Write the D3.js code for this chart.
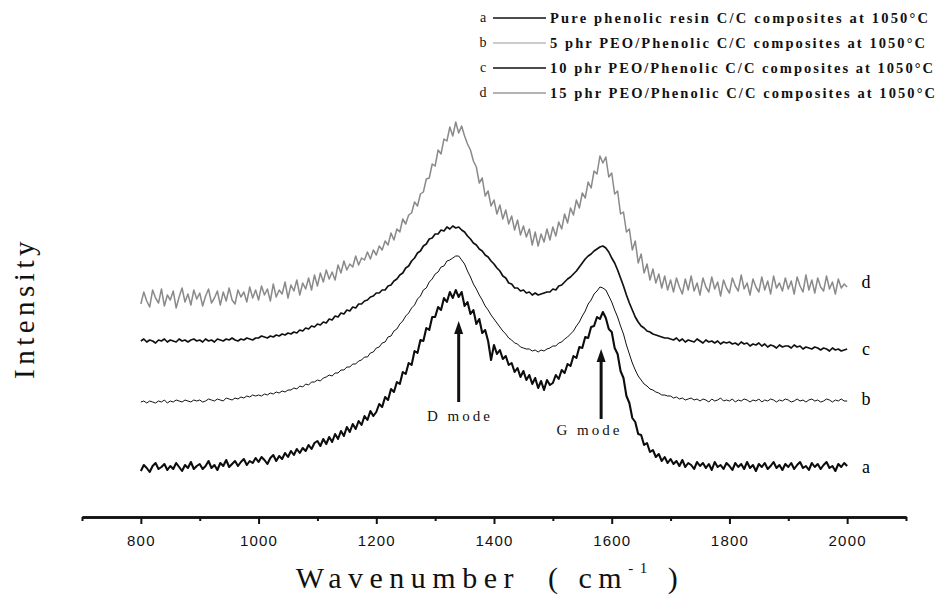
<!DOCTYPE html>
<html>
<head>
<meta charset="utf-8">
<script src="https://cdn.jsdelivr.net/npm/d3@7"></script>
<style>
  body { margin: 0; background: #fff; }
  svg { display: block; }
</style>
</head>
<body>
<svg id="chart" width="939" height="599"></svg>
<script>
// Raman spectra of C/C composites carbonised at 1050 °C (stacked, arbitrary units)
const wavenumbers = [
  800, 805, 810, 815, 820, 825, 830, 835, 840, 845, 850, 855, 860, 865, 870, 875, 880, 885, 890, 895,
  900, 905, 910, 915, 920, 925, 930, 935, 940, 945, 950, 955, 960, 965, 970, 975, 980, 985, 990, 995,
  1000, 1005, 1010, 1015, 1020, 1025, 1030, 1035, 1040, 1045, 1050, 1055, 1060, 1065, 1070, 1075, 1080, 1085, 1090, 1095,
  1100, 1105, 1110, 1115, 1120, 1125, 1130, 1135, 1140, 1145, 1150, 1155, 1160, 1165, 1170, 1175, 1180, 1185, 1190, 1195,
  1200, 1205, 1210, 1215, 1220, 1225, 1230, 1235, 1240, 1245, 1250, 1255, 1260, 1265, 1270, 1275, 1280, 1285, 1290, 1295,
  1300, 1305, 1310, 1315, 1320, 1325, 1330, 1335, 1340, 1345, 1350, 1355, 1360, 1365, 1370, 1375, 1380, 1385, 1390, 1395,
  1400, 1405, 1410, 1415, 1420, 1425, 1430, 1435, 1440, 1445, 1450, 1455, 1460, 1465, 1470, 1475, 1480, 1485, 1490, 1495,
  1500, 1505, 1510, 1515, 1520, 1525, 1530, 1535, 1540, 1545, 1550, 1555, 1560, 1565, 1570, 1575, 1580, 1585, 1590, 1595,
  1600, 1605, 1610, 1615, 1620, 1625, 1630, 1635, 1640, 1645, 1650, 1655, 1660, 1665, 1670, 1675, 1680, 1685, 1690, 1695,
  1700, 1705, 1710, 1715, 1720, 1725, 1730, 1735, 1740, 1745, 1750, 1755, 1760, 1765, 1770, 1775, 1780, 1785, 1790, 1795,
  1800, 1805, 1810, 1815, 1820, 1825, 1830, 1835, 1840, 1845, 1850, 1855, 1860, 1865, 1870, 1875, 1880, 1885, 1890, 1895,
  1900, 1905, 1910, 1915, 1920, 1925, 1930, 1935, 1940, 1945, 1950, 1955, 1960, 1965, 1970, 1975, 1980, 1985, 1990, 1995,
  2000
];

// a: pure phenolic resin
const seriesA = [
  45, 51, 48, 44, 50, 53, 47, 49, 52, 46, 50, 47, 53, 49, 45, 51, 48, 54, 47, 50,
  52, 47, 50, 55, 48, 51, 46, 53, 50, 56, 49, 52, 55, 50, 54, 57, 51, 55, 53, 58,
  54, 59, 56, 52, 58, 61, 55, 60, 57, 63, 59, 65, 61, 67, 63, 68, 65, 71, 67, 73,
  75, 70, 77, 72, 79, 74, 82, 77, 85, 80, 89, 84, 92, 87, 95, 91, 100, 96, 105, 100,
  104, 112, 109, 119, 116, 127, 124, 134, 132, 144, 142, 153, 151, 165, 163, 176, 175, 188, 186, 199,
  199, 209, 206, 218, 214, 224, 218, 226, 219, 224, 210, 214, 202, 206, 192, 197, 183, 186, 175, 156,
  171, 162, 166, 157, 160, 151, 153, 144, 148, 139, 145, 136, 141, 132, 138, 128, 135, 126, 136, 131,
  133, 141, 137, 146, 143, 152, 150, 160, 158, 169, 168, 179, 178, 189, 190, 199, 197, 204, 198, 187,
  184, 168, 162, 145, 138, 120, 113, 98, 94, 82, 81, 71, 73, 64, 66, 59, 62, 55, 59, 53,
  57, 52, 55, 50, 56, 49, 53, 51, 47, 54, 50, 53, 48, 52, 46, 54, 49, 51, 47, 53,
  50, 46, 53, 49, 52, 47, 54, 48, 51, 45, 52, 49, 53, 47, 50, 54, 48, 51, 46, 52,
  49, 53, 47, 51, 54, 48, 50, 46, 53, 49, 52, 47, 51, 54, 48, 50, 45, 52, 49, 53,
  50
];

// b: 5 phr PEO
const seriesB = [
  114, 115, 113, 115, 114, 113, 115, 114, 116, 113, 115, 114, 116, 115, 114, 116, 115, 114, 116, 115,
  116, 114, 115, 117, 116, 115, 117, 116, 115, 118, 117, 116, 118, 117, 119, 118, 120, 119, 121, 120,
  121, 120, 122, 121, 123, 122, 124, 123, 125, 124, 126, 126, 128, 127, 130, 129, 132, 131, 134, 134,
  136, 135, 138, 139, 141, 140, 143, 143, 146, 146, 149, 149, 152, 152, 155, 156, 159, 159, 163, 164,
  168, 169, 173, 174, 179, 180, 185, 187, 192, 195, 200, 203, 208, 211, 217, 220, 226, 228, 234, 237,
  242, 244, 249, 250, 255, 256, 258, 260, 260, 256, 252, 245, 239, 232, 227, 221, 216, 210, 206, 201,
  197, 193, 189, 185, 182, 178, 176, 173, 172, 169, 168, 167, 167, 165, 166, 164, 166, 165, 167, 168,
  170, 170, 173, 174, 177, 179, 182, 185, 190, 194, 200, 205, 212, 216, 222, 225, 229, 228, 226, 220,
  214, 206, 199, 190, 182, 171, 162, 153, 146, 140, 136, 132, 130, 127, 126, 124, 123, 121, 121, 120,
  120, 118, 119, 117, 118, 116, 117, 118, 116, 117, 115, 117, 116, 114, 117, 115, 116, 118, 115, 116,
  115, 117, 114, 116, 115, 117, 116, 114, 116, 115, 117, 114, 116, 115, 117, 116, 114, 116, 115, 117,
  116, 114, 115, 117, 115, 116, 114, 116, 117, 115, 116, 114, 115, 117, 116, 114, 116, 115, 117, 115,
  115
];

// c: 10 phr PEO
const seriesC = [
  175, 177, 174, 176, 175, 173, 176, 175, 177, 174, 176, 175, 174, 177, 175, 176, 174, 176, 177, 175,
  176, 174, 177, 175, 176, 174, 177, 176, 175, 177, 176, 178, 176, 175, 177, 176, 178, 177, 176, 178,
  178, 180, 179, 178, 180, 179, 181, 180, 182, 181, 183, 182, 184, 183, 186, 185, 188, 187, 190, 189,
  192, 191, 194, 193, 197, 196, 200, 199, 203, 202, 206, 205, 209, 208, 212, 212, 215, 216, 219, 220,
  223, 223, 226, 226, 230, 231, 235, 237, 241, 243, 248, 250, 255, 258, 263, 265, 270, 272, 277, 278,
  282, 282, 286, 285, 289, 287, 290, 288, 289, 286, 284, 280, 277, 273, 271, 267, 265, 261, 259, 255,
  252, 248, 245, 240, 238, 233, 232, 228, 228, 225, 226, 223, 224, 221, 223, 221, 222, 223, 224, 224,
  227, 226, 230, 231, 234, 237, 239, 242, 245, 249, 253, 257, 260, 262, 265, 267, 269, 270, 268, 264,
  258, 253, 246, 238, 230, 221, 213, 206, 199, 194, 190, 188, 185, 184, 182, 181, 180, 179, 178, 178,
  177, 176, 178, 175, 177, 174, 176, 175, 174, 177, 175, 173, 176, 174, 175, 173, 175, 172, 174, 173,
  174, 172, 173, 171, 174, 172, 173, 170, 172, 171, 173, 170, 172, 169, 171, 170, 168, 171, 169, 170,
  170, 168, 171, 169, 170, 167, 169, 168, 167, 169, 168, 166, 168, 167, 165, 168, 166, 167, 165, 166,
  167
];

// d: 15 phr PEO
const seriesD = [
  212, 224, 215, 209, 226, 218, 213, 227, 210, 221, 216, 225, 208, 219, 228, 214, 222, 211, 226, 217,
  223, 210, 220, 227, 213, 218, 225, 211, 224, 215, 228, 216, 212, 226, 219, 224, 214, 229, 218, 226,
  216, 230, 221, 227, 215, 232, 219, 226, 222, 234, 218, 231, 225, 236, 221, 233, 227, 238, 226, 241,
  230, 243, 234, 246, 237, 244, 236, 251, 243, 255, 246, 252, 249, 260, 251, 258, 256, 264, 257, 266,
  261, 270, 266, 275, 271, 283, 276, 287, 284, 297, 292, 301, 303, 314, 310, 322, 324, 337, 338, 352,
  350, 366, 362, 377, 375, 389, 380, 394, 383, 390, 380, 372, 366, 355, 349, 333, 338, 320, 325, 310,
  316, 302, 311, 297, 306, 292, 300, 286, 296, 281, 290, 279, 287, 271, 284, 270, 282, 274, 287, 276,
  289, 280, 294, 287, 302, 293, 308, 301, 316, 308, 323, 318, 334, 328, 345, 342, 360, 353, 359, 339,
  343, 322, 325, 302, 304, 284, 287, 266, 275, 253, 262, 243, 252, 236, 247, 233, 242, 228, 240, 226,
  236, 224, 238, 229, 222, 237, 226, 240, 225, 233, 221, 238, 229, 224, 239, 227, 234, 220, 236, 228,
  223, 238, 230, 225, 241, 227, 233, 221, 237, 229, 224, 239, 226, 235, 222, 240, 228, 233, 225, 238,
  227, 235, 222, 239, 230, 224, 241, 226, 236, 223, 238, 229, 225, 240, 227, 234, 222, 237, 228, 232,
  229
];

const seriesKeys = ["a", "b", "c", "d"];
const legendLabels = [
  "Pure phenolic resin C/C composites at 1050°C",
  "5 phr PEO/Phenolic C/C composites at 1050°C",
  "10 phr PEO/Phenolic C/C composites at 1050°C",
  "15 phr PEO/Phenolic C/C composites at 1050°C"
];
const xMajorTicks = [800, 1000, 1200, 1400, 1600, 1800, 2000];
const xMinorTicks = [700, 900, 1100, 1300, 1500, 1700, 1900, 2100];

// Band annotations: arrow [wavenumber, tail, head] and label
const modeNames = ["D mode", "G mode"];
const modeArrowWavenumber = [1340, 1582];
const modeArrowTail = [114, 97];
const modeArrowHead = [195, 167];
const modeLabelWavenumber = [1342, 1562];
const modeLabelLevel = [95, 81];

// ---------------------------------------------------------------
const seriesValues = [seriesA, seriesB, seriesC, seriesD];
const seriesStyle = {
  a: { stroke: "#0d0d0d", width: 2.1 },
  b: { stroke: "#111", width: 1.0 },
  c: { stroke: "#111", width: 1.7 },
  d: { stroke: "#8a8a8a", width: 1.5 }
};
const legendStyle = {
  a: { stroke: "#111", width: 1.6 },
  b: { stroke: "#9a9a9a", width: 1.2 },
  c: { stroke: "#111", width: 1.3 },
  d: { stroke: "#9a9a9a", width: 1.4 }
};
const serif = "'Liberation Serif', 'Times New Roman', serif";
const sans = "'Liberation Sans', Arial, sans-serif";

const svg = d3.select("#chart");

const x = d3.scaleLinear().domain([700, 2100]).range([82, 906]);
const y = d3.scaleLinear().domain([0, 500]).range([516, 16]);
const axisY = 517;

// spectra
const line = d3.line()
  .x(d => x(d[0]))
  .y(d => y(d[1]));

const spectra = svg.append("g").attr("class", "spectra");
seriesKeys.forEach((k, i) => {
  const pts = wavenumbers.map((w, j) => [w, seriesValues[i][j]]);
  spectra.append("path")
    .datum(pts)
    .attr("d", line)
    .attr("fill", "none")
    .attr("stroke", seriesStyle[k].stroke)
    .attr("stroke-width", seriesStyle[k].width)
    .attr("stroke-linejoin", "round");
});

// series tags at the right end of each trace
const tagLevel = { a: 49, b: 117, c: 167, d: 234 };
seriesKeys.forEach(k => {
  svg.append("text")
    .attr("x", x(2032))
    .attr("y", y(tagLevel[k]) + 6)
    .attr("text-anchor", "middle")
    .style("font-family", serif)
    .style("font-size", "18px")
    .text(k);
});

// x axis: minor then major ticks
const minorAxis = d3.axisBottom(x)
  .tickValues(xMinorTicks)
  .tickSize(4)
  .tickSizeOuter(0)
  .tickFormat("");
const majorAxis = d3.axisBottom(x)
  .tickValues(xMajorTicks)
  .tickSize(7)
  .tickSizeOuter(0)
  .tickPadding(11)
  .tickFormat(d3.format("d"));

const gMinor = svg.append("g").attr("transform", `translate(0,${axisY})`).call(minorAxis);
const gMajor = svg.append("g").attr("transform", `translate(0,${axisY})`).call(majorAxis);
[gMinor, gMajor].forEach(g => {
  g.select(".domain").attr("stroke", "#111").attr("stroke-width", 2.6);
  g.selectAll(".tick line").attr("stroke", "#111").attr("stroke-width", 2);
});
gMajor.selectAll(".tick text")
  .attr("fill", "#111")
  .style("font-family", sans)
  .style("font-size", "15px")
  .style("letter-spacing", "1.2px");

// axis titles
const xTitle = svg.append("text")
  .attr("x", 490)
  .attr("y", 588)
  .attr("text-anchor", "middle")
  .style("font-family", serif)
  .style("font-size", "30px")
  .style("letter-spacing", "6.5px")
  .attr("fill", "#111");
xTitle.append("tspan").text("Wavenumber\u00a0\u00a0(\u00a0cm");
xTitle.append("tspan").attr("dy", -15).style("font-size", "15px").text("-1");
xTitle.append("tspan").attr("dy", 15).text("\u00a0)");

svg.append("text")
  .attr("transform", "translate(34,308) rotate(-90)")
  .attr("text-anchor", "middle")
  .style("font-family", serif)
  .style("font-size", "29px")
  .style("letter-spacing", "4.5px")
  .attr("fill", "#111")
  .text("Intensity");

// D / G band arrows
const ann = svg.append("g").attr("class", "modes");
modeNames.forEach((name, i) => {
  const ax = x(modeArrowWavenumber[i]);
  const yTail = y(modeArrowTail[i]);
  const yHead = y(modeArrowHead[i]);
  ann.append("line")
    .attr("x1", ax).attr("x2", ax)
    .attr("y1", yTail).attr("y2", yHead + 10)
    .attr("stroke", "#111").attr("stroke-width", 3);
  ann.append("path")
    .attr("d", `M${ax},${yHead} L${ax - 4.5},${yHead + 13} L${ax + 4.5},${yHead + 13} Z`)
    .attr("fill", "#111");
  ann.append("text")
    .attr("x", x(modeLabelWavenumber[i]))
    .attr("y", y(modeLabelLevel[i]))
    .attr("text-anchor", "middle")
    .style("font-family", serif)
    .style("font-size", "15px")
    .style("letter-spacing", "3px")
    .attr("fill", "#111")
    .text(name);
});

// legend
const legendRowY = [18, 43, 68, 93];
const legendTextEnd = [928, 925, 933, 935];
const legend = svg.append("g").attr("class", "legend");
seriesKeys.forEach((k, i) => {
  const ry = legendRowY[i];
  legend.append("text")
    .attr("x", 483).attr("y", ry + 4)
    .attr("text-anchor", "middle")
    .style("font-family", serif)
    .style("font-size", "14px")
    .attr("fill", "#111")
    .text(k);
  legend.append("line")
    .attr("x1", 493).attr("x2", 546)
    .attr("y1", ry).attr("y2", ry)
    .attr("stroke", legendStyle[k].stroke)
    .attr("stroke-width", legendStyle[k].width);
  legend.append("text")
    .attr("x", 550).attr("y", ry + 5)
    .attr("textLength", legendTextEnd[i] - 550)
    .attr("lengthAdjust", "spacing")
    .style("font-family", serif)
    .style("font-size", "14.5px")
    .style("font-weight", "bold")
    .attr("fill", "#111")
    .text(legendLabels[i]);
});
</script>
</body>
</html>
